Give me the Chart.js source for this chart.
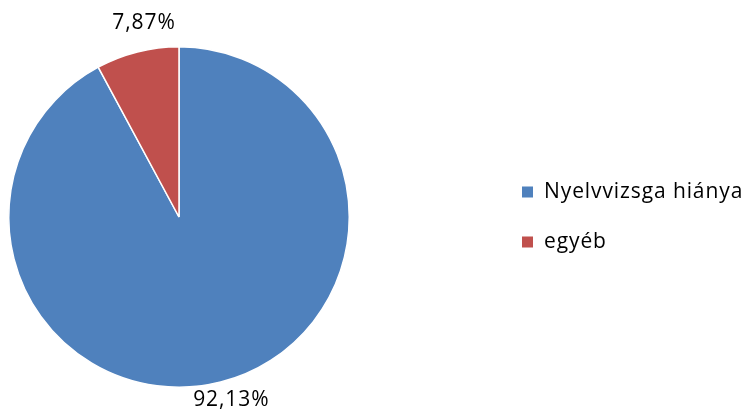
<!DOCTYPE html>
<html>
<head>
<meta charset="utf-8">
<script src="https://cdn.jsdelivr.net/npm/chart.js@4/dist/chart.umd.min.js"></script>
<style>
html,body{margin:0;padding:0;background:#fff;}
#wrap{width:748px;height:414px;position:relative;}
</style>
</head>
<body>
<div id="wrap"><canvas id="c" width="748" height="414"></canvas></div>
<script>
const categories = ["Nyelvvizsga hiánya", "egyéb"];
const values = [92.13, 7.87];
const valueLabels = ["92,13%", "7,87%"];
const colors = ["#4F81BD", "#C0504D"];

const FONT = "'Open Sans', Lato, sans-serif";

const labelPlugin = {
  id: 'sliceLabels',
  afterDatasetsDraw(chart) {
    const ctx = chart.ctx;
    const meta = chart.getDatasetMeta(0);
    const dist = [19, 30];
    const dx = [6, 14];
    ctx.save();
    ctx.font = "21px " + FONT;
    ctx.letterSpacing = "0.9px";
    ctx.fillStyle = "#000";
    ctx.textAlign = "center";
    ctx.textBaseline = "middle";
    meta.data.forEach((arc, i) => {
      const p = arc.getProps(['x','y','startAngle','endAngle','outerRadius'], true);
      const mid = (p.startAngle + p.endAngle) / 2;
      const r = p.outerRadius + dist[i];
      const x = p.x + Math.cos(mid) * r + dx[i];
      const y = p.y + Math.sin(mid) * r;
      ctx.fillText(valueLabels[i], x, y);
    });
    ctx.restore();
  }
};

const legendPlugin = {
  id: 'customLegend',
  afterDraw(chart) {
    const ctx = chart.ctx;
    ctx.save();
    ctx.font = "21px " + FONT;
    ctx.letterSpacing = "0.9px";
    ctx.textBaseline = "middle";
    ctx.textAlign = "left";
    chart.data.labels.forEach((lab, i) => {
      const y = 192 + i * 50;
      ctx.fillStyle = chart.data.datasets[0].backgroundColor[i];
      ctx.fillRect(522, y - 5.5, 11, 11);
      ctx.fillStyle = "#000";
      ctx.fillText(lab, 544, y);
    });
    ctx.restore();
  }
};

new Chart(document.getElementById('c'), {
  type: 'pie',
  data: {
    labels: categories,
    datasets: [{
      data: values,
      backgroundColor: colors,
      borderColor: "#ffffff",
      borderWidth: 1.5
    }]
  },
  options: {
    responsive: false,
    animation: false,
    layout: { padding: { left: 8, right: 398, top: 46, bottom: 26 } },
    plugins: {
      legend: { display: false },
      tooltip: { enabled: false }
    }
  },
  plugins: [labelPlugin, legendPlugin]
});
</script>
</body>
</html>
